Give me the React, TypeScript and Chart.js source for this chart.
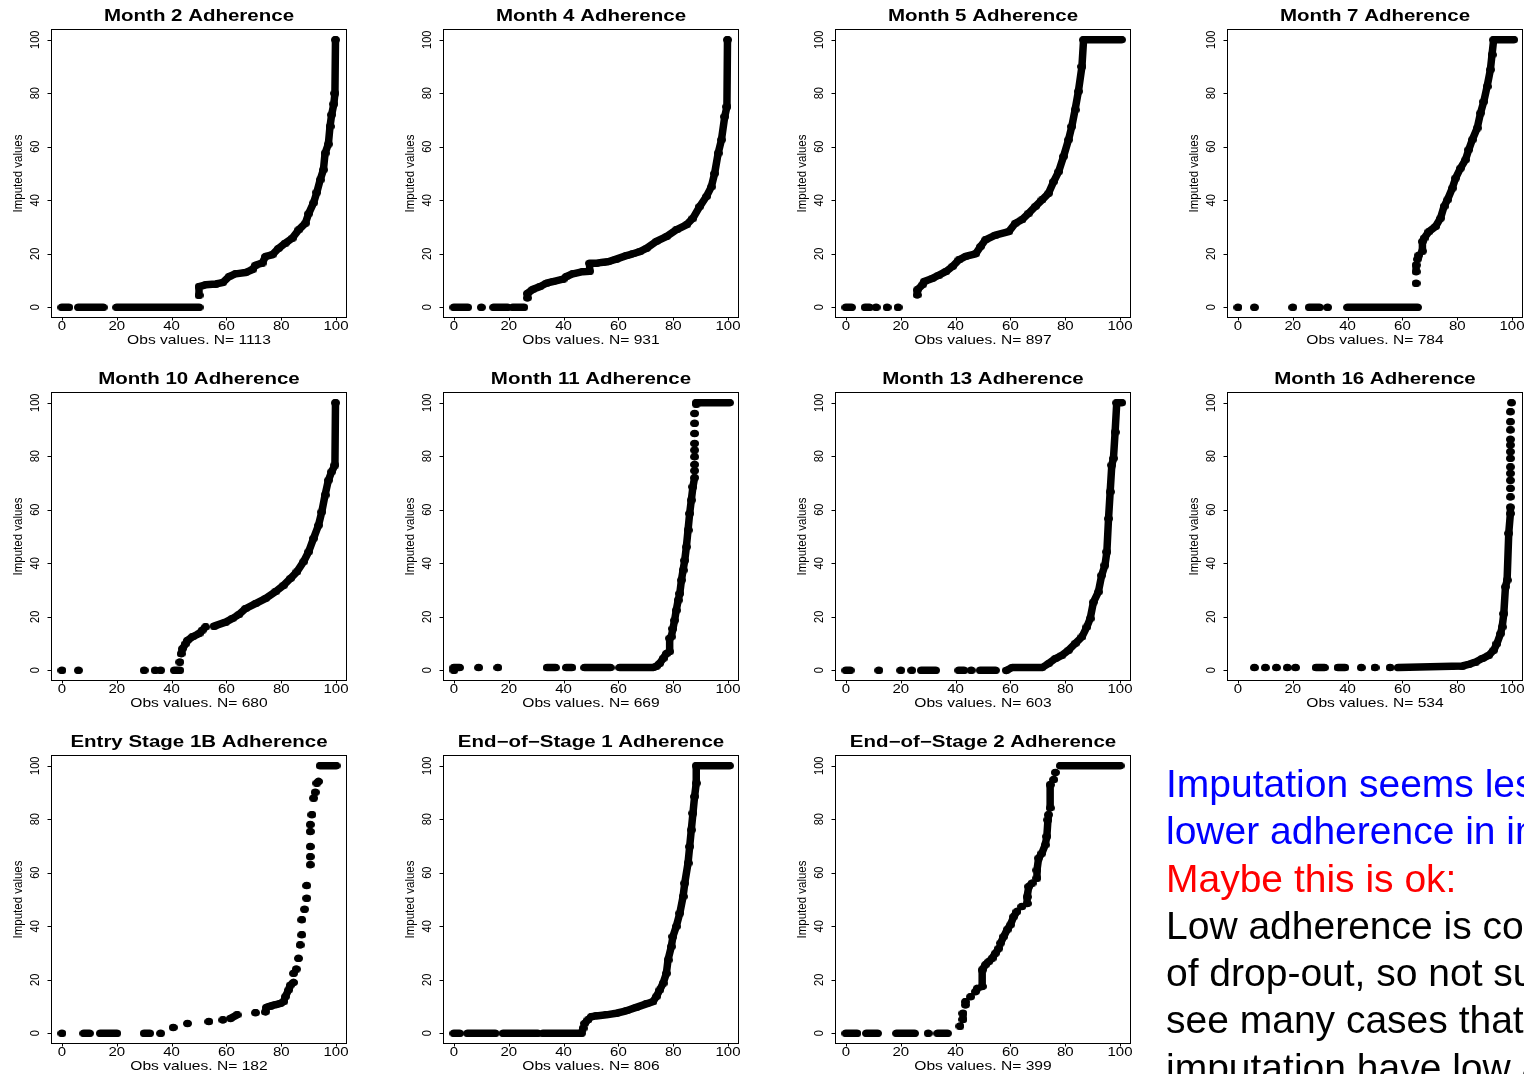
import React, { useEffect, useRef } from "react";
import { Chart, registerables } from "chart.js";

Chart.register(...registerables);

type Pt = [number, number] | null;

// ---- data (observed value, imputed value); null = break between runs of points ----
const month2: Pt[] = [[0,0],[2.5,0],null,[6,0],[15,0],null,[20,0],[50,0],null,[50,4.5],[50,7.7],[52.5,8.4],[56,8.7],[58.6,9.2],[61,11.5],[63.4,12.5],[67,13],[69.4,14],[70.7,15.8],[73,16.5],[74.3,19],[76.7,19.6],[79,22],[81.5,24],[84,25.8],[86.4,29],[88.8,31.4],[90,35],[91.8,39],[93,43],[94.2,47.6],[95.4,51.4],[96,57.6],[97.2,61],[97.8,67.6],[98.4,72],[99.2,76],[99.6,80],[99.8,100]];
const month4: Pt[] = [[0,0],[5,0],null,[10,0],null,[14.5,0],[19.5,0],null,[21.5,0],[25.5,0],null,[26.8,3.5],[26.8,5.2],[28.8,6.7],[31.3,7.7],[33.7,9],[36.1,9.6],[39.8,10.5],[41,11.5],[43.4,12.5],[47,13.3],[49.5,13.5],[49.5,16.5],[52,16.5],[54.4,16.8],[56.2,17],[59.2,18],[62.9,19.3],[65.3,20],[67.8,20.8],[70.2,22],[73.8,24.6],[77.5,26.4],[81.1,28.9],[84.8,30.8],[87.2,33.3],[89.7,37.7],[92.1,41.4],[93.9,45],[95.1,50],[96.4,57.6],[97.6,62.6],[98.8,71.3],[99.6,75],[99.8,100]];
const month5: Pt[] = [[0,0],[2,0],null,[7,0],[8.5,0],null,[11,0],null,[15,0],null,[19,0],null,[26,4.6],[26,6.5],[27.9,8.4],[28.5,9.6],[31.5,10.8],[33.9,12],[36.4,13.3],[38.8,15.2],[41.2,17.7],[43.6,19],[47.3,20],[49.1,22.7],[50.9,25.2],[54.5,27],[59.4,28.3],[61.8,31.4],[64.2,32.7],[66.7,35.2],[69.1,37.7],[71.5,40.1],[73.9,42.6],[75.8,47],[77.6,50.7],[79.4,56.4],[81.2,62.6],[82.4,67.6],[83.6,73.8],[84.8,80.7],[86.1,90],[86.7,100],[100.5,100]];
const month7: Pt[] = [[0,0],null,[6,0],null,[20,0],null,[26,0],[29.7,0],null,[32.7,0],null,[40,0],[65.5,0],null,[65,9],null,[65,13.3],[65,15.8],null,[65.5,18],[66,19.5],null,[67.3,21],[67.3,24.6],[67.9,25.8],[69.7,28.3],[72.1,30.2],[73.9,33.3],[75.2,37.7],[76.4,40.1],[78.2,44.5],[79.4,48.3],[81.2,52],[83,55.1],[84.2,58.9],[85.5,62.6],[87.3,67],[88.5,72.6],[89.7,76.9],[90.9,82.5],[92.1,88.8],[92.7,94.4],[93.3,100],[100.6,100]];
const month10: Pt[] = [[0,0],null,[6,0],null,[30,0],null,[34,0],null,[36,0],null,[41,0],[43,0],null,[43,3.1],null,[43.5,6.2],[44,8.1],[45.2,10],[45.8,11.2],[47.6,12.5],[50,13.7],[51.2,15],[52.4,16.2],null,[55.5,16.5],[59.7,18],[62.1,19.3],[64.5,20.8],[66.9,23],[70.6,24.9],[74.2,26.8],[77.8,29.3],[80.9,31.8],[83.3,34.3],[85.7,36.8],[88.1,40.5],[90,44.3],[91.8,49.3],[93.6,54.2],[94.8,59.2],[96,65.5],[97.2,71],[98.4,74.2],[99.6,76.7],[99.8,100]];
const month11: Pt[] = [[0,0],null,[0,1],[2,1],null,[9,1],null,[16,1],null,[34,1],[37,1],null,[41,1],[43,1],null,[47.7,1],[57,1],null,[60.5,1],[72.6,1],[73.8,1.5],[75,2.5],[76.3,4.4],[77.5,6.2],[78.7,7],[78.7,12],[79.3,12.5],[79.9,15.6],[80.5,18.7],[81.1,22.4],[81.8,26.2],[82.4,28.7],[83,33.7],[83.6,37.4],[84.2,41.1],[84.8,46.1],[85.4,52.4],[86,58.6],[86.6,63.6],[87.2,68.6],[87.8,72],null,[87.8,74.6],null,[87.8,76.9],null,[87.8,79.8],null,[87.8,82.3],null,[87.8,84.8],null,[87.8,88.5],null,[87.8,92.3],null,[87.8,96],null,[88.4,99.5],[88.4,100],[100.5,100]];
const month13: Pt[] = [[0,0],[1.5,0],null,[12,0],null,[20,0],null,[24,0],null,[27.5,0],[32.7,0],null,[41.2,0],[43,0],null,[45.7,0],null,[49,0],[54.5,0],null,[58.5,0],[60.6,1],[71.5,1],[73.9,2.5],[76.4,4.4],[78.8,5.6],[81.2,7.5],[83.6,10],[86.1,12.5],[87.9,16.2],[89.1,19.3],[90.3,25.5],[92.1,29.3],[93.3,35.5],[94.5,39.3],[95.2,44.3],[95.8,56.7],[96.4,66.7],[97,76.7],[97.6,79.2],[98.2,89],[98.8,100],[100.6,100]];
const month16: Pt[] = [[6,1],null,[10,1],null,[14,1],null,[18,1],null,[21,1],null,[28.5,1],[31.5,1],null,[36.5,1],[39,1],null,[45,1],null,[50,1],null,[55.5,1],null,[58.5,1],[78,1.5],[81.8,1.6],[84.2,2.2],[86.7,3.1],[89.1,4.4],[91.5,5.6],[93.3,7.5],[94.5,10],[95.8,13.7],[96.4,16.2],[97,21.2],[97.6,31.2],[98.2,33.7],[98.8,51.2],[99.4,58.6],[99.4,61],null,[99.4,64.8],null,[99.4,68],null,[99.4,71],null,[99.4,73.6],null,[99.4,76],null,[99.4,79.2],null,[99.4,81.7],null,[99.4,84.2],null,[99.4,86.3],null,[99.4,89.8],null,[99.4,92.9],null,[99.4,96.6],null,[99.8,100]];
const entry1B: Pt[] = [[0,0],null,[8,0],[10,0],null,[14,0],[20,0],null,[30,0],[32,0],null,[36,0],null,[40.6,2.2],null,[45.8,3.7],null,[53.6,4.4],null,[58.7,5],null,[61.5,5.6],[63.9,6.9],null,[70.6,7.7],null,[74.2,8],[74.6,9.7],[76,10.2],[77.8,10.6],[79.7,11.2],[80.9,11.8],[81.5,13.7],[82.7,16.2],[83.3,18],[84.5,19],null,[84.5,22.4],null,[85.5,24],null,[86.3,28],null,[86.9,33],null,[87.5,36.8],null,[87.5,42.4],null,[88.5,46.4],null,[89.3,50.5],null,[89.3,55.2],null,[90.6,63],null,[90.6,66],null,[90.6,69.8],null,[90.6,75.4],null,[90.6,78],null,[91.2,81.7],null,[91.8,87.9],null,[92.4,90.1],null,[93,93.5],[93.6,94.1],null,[94.2,100],[100,100]];
const endStage1: Pt[] = [[0,0],[2,0],null,[5,0],[15,0],null,[18,0],[30.5,0],null,[32.5,0],[46.5,0],[47.1,1.9],null,[47.7,3.7],[48.9,5],[50.1,6.2],[51.9,6.5],[55.6,6.9],[59.2,7.5],[62.9,8.4],[66.5,9.7],[70.2,11],[72.6,11.8],[73.8,13.7],[75.1,16.2],[76.3,18.7],[77.5,22.4],[78.1,27.4],[79.3,32.4],[79.9,36.2],[81.1,39.9],[82.4,44.9],[83.6,51.1],[84.2,56.1],[85.4,63.6],[86,69.8],[86.6,76],[87.2,82.3],[87.8,88.5],[88.4,93.5],[88.4,100],[100.5,100]];
const endStage2: Pt[] = [[0,0],[4,0],null,[7.5,0],[11.5,0],null,[18.5,0],[25,0],null,[30,0],null,[33.5,0],[37,0],null,[41.6,2.7],null,[42.7,5.2],[42.7,7.5],null,[43.6,10.6],[43.6,11.8],null,[45.5,13.7],null,[47.3,15.6],[47.9,16.8],null,[49.7,17.5],[49.7,23.7],[50.9,25.6],[52.1,26.8],[53.3,28],[54.5,29.9],[55.8,31.8],null,[56.4,33.7],[57.6,36.2],[58.8,38.7],[60,40.5],[61.2,43.6],[62.4,45.5],null,[64.2,47.4],null,[66.1,48.5],[66.1,51],[66.7,54.9],[67.9,56.1],null,[69.7,58],[69.7,61],[70.3,65.5],[71.5,67.3],[72.7,70.4],[73.3,73.6],[73.7,79.8],[73.9,81.7],null,[74.5,84.2],[74.5,92.9],null,[75.8,94.8],null,[76.4,97.5],null,[78.2,100],[100,100]];

const titles = ["Month 2 Adherence","Month 4 Adherence","Month 5 Adherence","Month 7 Adherence","Month 10 Adherence","Month 11 Adherence","Month 13 Adherence","Month 16 Adherence","Entry Stage 1B Adherence","End\u2212of\u2212Stage 1 Adherence","End\u2212of\u2212Stage 2 Adherence"];
const sampleSizes = [1113, 931, 897, 784, 680, 669, 603, 534, 182, 806, 399];
const series = [month2, month4, month5, month7, month10, month11, month13, month16, entry1B, endStage1, endStage2];
const xTicks = [0, 20, 40, 60, 80, 100];
const yTicks = [0, 20, 40, 60, 80, 100];
const yAxisTitle = "Imputed values";
const xAxisTitle = "Obs values. N= ";

const FONT = '"Liberation Sans", Arial, Helvetica, sans-serif';
const CW = 392;
const CH = 363;

function makeDot(): HTMLCanvasElement {
  const c = document.createElement("canvas");
  c.width = 9;
  c.height = 7;
  const g = c.getContext("2d")!;
  g.fillStyle = "#000";
  g.beginPath();
  g.ellipse(4.5, 3.5, 4.5, 3.5, 0, 0, Math.PI * 2);
  g.fill();
  return c;
}

function hText(ctx: CanvasRenderingContext2D, t: string, x: number, y: number, font: string, sx: number) {
  ctx.save();
  ctx.translate(x, y);
  ctx.scale(sx, 1);
  ctx.font = font;
  ctx.textAlign = "center";
  ctx.textBaseline = "alphabetic";
  ctx.fillText(t, 0, 0);
  ctx.restore();
}

function vText(ctx: CanvasRenderingContext2D, t: string, x: number, y: number, font: string, thick: number) {
  ctx.save();
  ctx.translate(x, y);
  ctx.rotate(-Math.PI / 2);
  ctx.scale(1, thick);
  ctx.font = font;
  ctx.textAlign = "center";
  ctx.textBaseline = "middle";
  ctx.fillText(t, 0, 0);
  ctx.restore();
}

const rAxes = {
  id: "rAxes",
  afterDraw(chart: any, _args: any, opts: any) {
    const { ctx, chartArea: a, scales } = chart;
    const xs = scales.x;
    const ys = scales.y;
    ctx.save();
    ctx.fillStyle = "#000";
    ctx.strokeStyle = "#000";
    ctx.lineWidth = 1;
    const L = Math.round(a.left) + 0.5;
    const T = Math.round(a.top) + 0.5;
    const R = Math.round(a.right) - 0.5;
    const B = Math.round(a.bottom) - 0.5;
    ctx.strokeRect(L, T, R - L, B - T);
    ctx.beginPath();
    xTicks.forEach((v) => {
      const px = Math.round(xs.getPixelForValue(v)) + 0.5;
      ctx.moveTo(px, B);
      ctx.lineTo(px, B + 3);
    });
    yTicks.forEach((v) => {
      const py = Math.round(ys.getPixelForValue(v)) + 0.5;
      ctx.moveTo(L, py);
      ctx.lineTo(L - 4, py);
    });
    ctx.stroke();
    xTicks.forEach((v) => {
      hText(ctx, String(v), xs.getPixelForValue(v), a.bottom + 12, `12px ${FONT}`, 1.25);
    });
    yTicks.forEach((v) => {
      vText(ctx, String(v), a.left - 15, ys.getPixelForValue(v), `11px ${FONT}`, 1.1);
    });
    hText(ctx, opts.title, (a.left + a.right) / 2, a.top - 8, `bold 16px ${FONT}`, 1.28);
    hText(ctx, opts.xTitle, (a.left + a.right) / 2, a.bottom + 26, `13px ${FONT}`, 1.2);
    vText(ctx, yAxisTitle, a.left - 32, (a.top + a.bottom) / 2, `11.5px ${FONT}`, 1.1);
    ctx.restore();
  },
};

function Panel({ idx }: { idx: number }) {
  const ref = useRef<HTMLCanvasElement | null>(null);
  useEffect(() => {
    if (!ref.current) return;
    const dot = makeDot();
    const data = series[idx].map((p) => (p ? { x: p[0], y: p[1] } : { x: null, y: null }));
    const chart = new Chart(ref.current, {
      type: "scatter",
      data: {
        datasets: [
          {
            data: data as any,
            showLine: true,
            spanGaps: false,
            borderColor: "#000",
            backgroundColor: "#000",
            borderWidth: 7.5,
            borderCapStyle: "round",
            borderJoinStyle: "round",
            tension: 0,
            pointStyle: dot as any,
            pointRadius: 4,
          } as any,
        ],
      },
      options: {
        responsive: false,
        animation: false,
        devicePixelRatio: 1,
        events: [],
        layout: { autoPadding: false, padding: { left: 51, top: 29, right: CW - 51 - 296, bottom: CH - 29 - 289 } },
        scales: {
          x: { type: "linear", min: -4, max: 104, display: false },
          y: { type: "linear", min: -4, max: 104, display: false },
        },
        plugins: {
          legend: { display: false },
          tooltip: { enabled: false },
          rAxes: { title: titles[idx], xTitle: xAxisTitle + sampleSizes[idx] },
        } as any,
      },
      plugins: [rAxes as any],
    });
    return () => chart.destroy();
  }, [idx]);
  const col = idx % 4;
  const row = Math.floor(idx / 4);
  return (
    <canvas
      ref={ref}
      width={CW}
      height={CH}
      style={{ position: "absolute", left: col * CW, top: row * CH, width: CW, height: CH }}
    />
  );
}

export default function App() {
  const textStyle: React.CSSProperties = {
    position: "absolute",
    left: 1166,
    top: 760,
    fontFamily: FONT,
    fontSize: 39,
    lineHeight: "47.3px",
    whiteSpace: "nowrap",
    color: "#000",
  };
  return (
    <div style={{ position: "fixed", left: 0, top: 0, width: 1524, height: 1074, overflow: "hidden", background: "#fff" }}>
      {series.map((_, i) => (
        <Panel key={i} idx={i} />
      ))}
      <div style={textStyle}>
        <div style={{ color: "#0000FF" }}>Imputation seems less likely to give</div>
        <div style={{ color: "#0000FF" }}>lower adherence in imputed values.</div>
        <div style={{ color: "#FF0000" }}>Maybe this is ok:</div>
        <div>Low adherence is correlated with risk</div>
        <div>of drop-out, so not surprising to</div>
        <div>see many cases that needed</div>
        <div>imputation have low adherence.</div>
      </div>
    </div>
  );
}
